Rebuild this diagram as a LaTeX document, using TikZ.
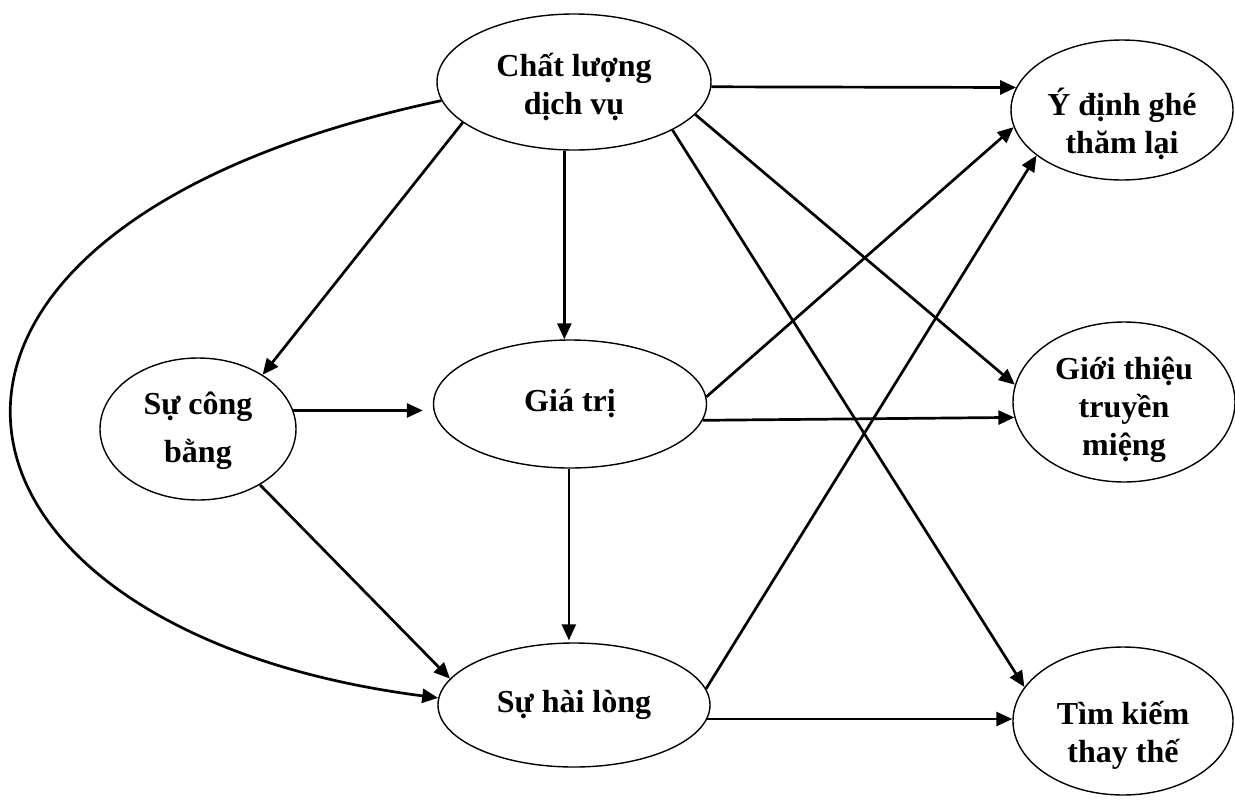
\documentclass[tikz,border=0pt]{standalone}
\usepackage{fontspec}
\setmainfont{Liberation Serif}
\usetikzlibrary{shapes.geometric,arrows.meta}
\begin{document}
\begin{tikzpicture}[x=1pt,y=-1pt,
  ell/.style={ellipse,draw,line width=1.4pt,inner sep=0pt},
  lab/.style={align=center,font=\fontsize{32}{38}\selectfont\bfseries},
  arr/.style={line width=2.7pt,-{Triangle[length=16pt,width=14pt]}}]
\useasboundingbox (0,0) rectangle (1235,804);
\node[ell,minimum width=274pt,minimum height=136pt,
  label={[lab,yshift=-5pt]center:Chất lượng\\dịch vụ}] (cl) at (574,82) {};
\node[ell,minimum width=222pt,minimum height=140pt,
  label={[lab,yshift=-14pt]center:Ý định ghé\\thăm lại}] (yd) at (1122,110) {};
\node[ell,minimum width=196pt,minimum height=142pt,
  label={[lab,yshift=-2pt]center:Sự công\\[10pt]bằng}] (scb) at (198,429) {};
\node[ell,minimum width=273pt,minimum height=128pt,
  label={[lab,yshift=0pt]center:Giá trị}] (gt) at (570,404) {};
\node[ell,minimum width=272pt,minimum height=124pt,
  label={[lab,yshift=0pt]center:Sự hài lòng}] (shl) at (574,705) {};
\node[ell,minimum width=222pt,minimum height=160pt,
  label={[lab,yshift=-8pt]center:Giới thiệu\\truyền\\miệng}] (gtt) at (1124,402) {};
\node[ell,minimum width=220pt,minimum height=148pt,
  label={[lab,yshift=-14pt]center:Tìm kiếm\\thay thế}] (tk) at (1123,721) {};

\draw[arr] (cl.-2) -- (yd.168);
\draw[arr] (cl.-15) -- (gtt.171);
\draw[arr] (cl.-26) -- (tk.161);
\draw[arr] (cl.-98) -- (cl.-98 |- gt.north);
\draw[arr] (cl.200) -- (scb.40);
\draw[arr] (cl.188) .. controls (-170,230) and (-90,630) .. (shl.177);
\draw[arr,shorten >=10pt] (scb.11) -- (scb.11 -| gt.west);
\draw[arr] (scb.-42) -- (shl.168);
\draw[arr,shorten >=2pt] (gt.-91) -- (gt.-91 |- shl.north);
\draw[arr] (gt.3) -- (yd.189);
\draw[arr] (gt.-7) -- (gtt.188);
\draw[arr] (shl.7) -- (yd.208);
\draw[arr] (shl.-6) -- (shl.-6 -| tk.west);
\end{tikzpicture}
\end{document}
